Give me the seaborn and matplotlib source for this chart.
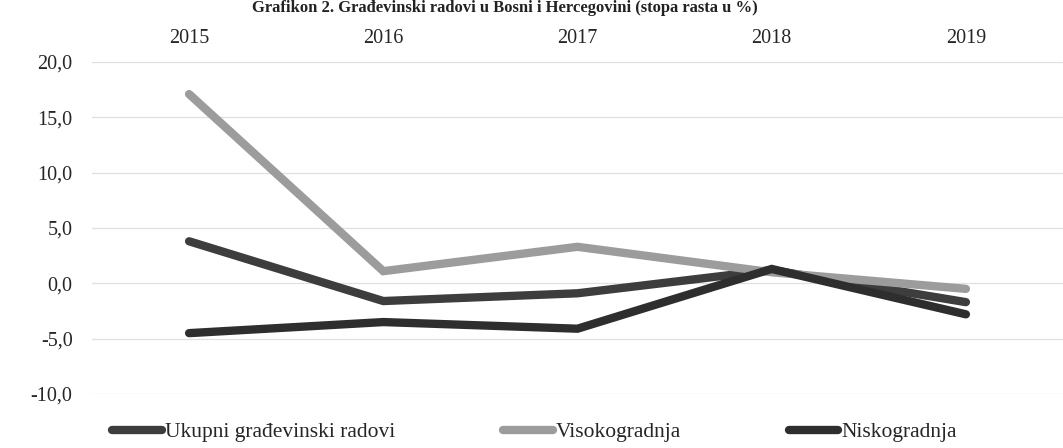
import matplotlib
matplotlib.use("Agg")
import matplotlib.pyplot as plt
import seaborn as sns
import pandas as pd
from matplotlib.lines import Line2D

years = ["2015", "2016", "2017", "2018", "2019"]
series_names = ["Ukupni građevinski radovi", "Visokogradnja", "Niskogradnja"]
ukupni = [3.8, -1.6, -0.9, 1.2, -1.7]
visoko = [17.1, 1.1, 3.3, 1.0, -0.5]
nisko = [-4.5, -3.5, -4.1, 1.3, -2.8]
y_ticks = [-10, -5, 0, 5, 10, 15, 20]
y_tick_labels = ["-10,0", "-5,0", "0,0", "5,0", "10,0", "15,0", "20,0"]
title = "Grafikon 2. Građevinski radovi u Bosni i Hercegovini (stopa rasta u %)"

sns.set_style("white")
plt.rcParams["font.family"] = ["Liberation Serif", "DejaVu Serif"]

rows = []
for name, vals in zip(series_names, [ukupni, visoko, nisko]):
    for i, (yr, v) in enumerate(zip(years, vals)):
        rows.append({"pos": i, "year": yr, "series": name, "value": v})
df = pd.DataFrame(rows)

palette = {"Ukupni građevinski radovi": "#3d3d3d",
           "Visokogradnja": "#9c9c9c",
           "Niskogradnja": "#2e2e2e"}
lw = 6.0

fig = plt.figure(figsize=(10.63, 4.48), dpi=100)
ax = fig.add_axes([92 / 1063, 1 - 394 / 448, 971 / 1063, (394 - 62) / 448])

sns.lineplot(data=df, x="pos", y="value", hue="series", hue_order=series_names,
             palette=palette, linewidth=lw, ax=ax, legend=False,
             solid_capstyle="round", solid_joinstyle="miter")

ax.set_xlim(-0.5, 4.5)
ax.set_ylim(-10, 20)
ax.set_yticks(y_ticks)
ax.set_yticklabels(y_tick_labels, fontsize=14.5)
ax.set_xticks(range(len(years)))
ax.set_xticklabels(years, fontsize=14.5)
ax.xaxis.tick_top()
ax.tick_params(axis="x", length=0, pad=10)
ax.tick_params(axis="y", length=0, pad=14)
ax.set_xlabel("")
ax.set_ylabel("")
for s in ax.spines.values():
    s.set_visible(False)
ax.grid(axis="y", color="#cfcfcf", linewidth=0.9, linestyle=(0, (1, 0.6)))
ax.set_axisbelow(True)

handles = [Line2D([0], [0], color=palette[n], linewidth=lw, solid_capstyle="round")
           for n in series_names]
fig.legend(handles, series_names, loc="center", bbox_to_anchor=(0.503, 1 - 432 / 448),
           ncol=3, frameon=False, fontsize=15.5, handlelength=2.3, handletextpad=0.15,
           columnspacing=5.0)

fig.text(0.475, 1.0, title, ha="center", va="top", fontsize=12,
         fontweight="bold", color="#222222")

fig.savefig("out.png", dpi=100, facecolor="white")
